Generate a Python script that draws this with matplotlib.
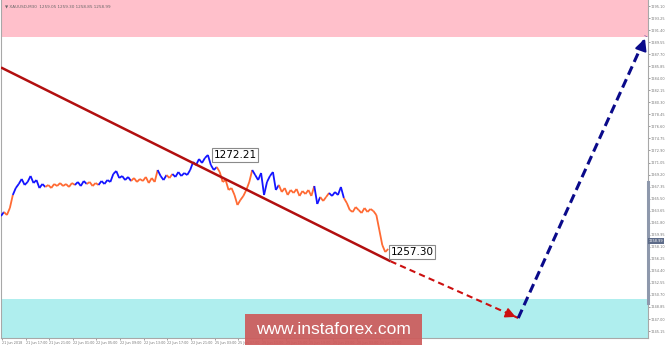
import matplotlib
matplotlib.use("Agg")
import matplotlib.pyplot as plt
from matplotlib.collections import LineCollection
from matplotlib.patches import Rectangle
import matplotlib.transforms as mtransforms

# ---------------- data ----------------
prices = [1262.83, 1263.45, 1262.98, 1264.06, 1266.06, 1267.13, 1267.75, 1268.52, 1267.60, 1268.06,
          1268.98, 1267.90, 1268.36, 1267.13, 1267.75, 1267.29, 1267.60, 1267.13, 1267.75, 1267.44,
          1267.90, 1267.44, 1267.75, 1267.29, 1267.90, 1267.60, 1268.06, 1267.44, 1268.21, 1267.75,
          1268.06, 1267.44, 1267.90, 1267.60, 1268.21, 1267.75, 1268.36, 1268.06, 1269.29, 1269.75,
          1268.67, 1268.98, 1268.36, 1268.83, 1268.21, 1268.67, 1268.06, 1268.52, 1268.21, 1268.83,
          1267.90, 1268.67, 1268.06, 1269.90, 1268.98, 1268.36, 1269.13, 1268.67, 1269.29, 1268.83,
          1269.59, 1268.98, 1269.44, 1269.13, 1269.90, 1271.13, 1270.67, 1271.59, 1270.98, 1271.75,
          1272.21, 1270.67, 1269.90, 1270.36, 1269.59, 1268.06, 1268.36, 1266.83, 1267.13, 1266.06,
          1264.52, 1265.29, 1265.91, 1266.83, 1268.06, 1269.90, 1269.13, 1268.36, 1269.44, 1266.06,
          1268.06, 1268.98, 1269.59, 1266.83, 1267.60, 1266.52, 1267.13, 1266.06, 1266.83, 1266.37,
          1266.98, 1265.91, 1266.67, 1266.21, 1266.83, 1265.91, 1267.44, 1264.68, 1265.75, 1265.14,
          1265.75, 1266.37, 1265.91, 1266.52, 1266.06, 1267.29, 1265.60, 1264.83, 1263.75, 1263.45,
          1264.21, 1263.75, 1263.29, 1264.06, 1263.45, 1263.91, 1263.60, 1262.98, 1260.68, 1258.37,
          1257.30, 1257.76]
# wave colour per bar: 1 = up-wave (blue), 0 = down-wave (orange)
waves = [1, 0, 0, 0, 1, 1, 1, 1, 1, 1,
         1, 1, 1, 1, 1, 0, 0, 0, 0, 0,
         0, 0, 0, 0, 0, 1, 1, 1, 1, 0,
         0, 0, 0, 1, 1, 1, 1, 1, 1, 1,
         1, 1, 1, 1, 0, 0, 0, 0, 0, 0,
         0, 0, 0, 1, 1, 1, 0, 0, 1, 1,
         1, 1, 1, 1, 1, 1, 1, 1, 1, 1,
         1, 1, 1, 0, 0, 0, 0, 0, 0, 0,
         0, 0, 0, 0, 0, 1, 1, 1, 1, 1,
         1, 1, 1, 1, 0, 0, 0, 0, 0, 0,
         0, 0, 0, 0, 0, 0, 1, 1, 0, 0,
         0, 1, 1, 1, 1, 1, 0, 0, 0, 0,
         0, 0, 0, 0, 0, 0, 0, 0, 0, 0,
         0, 0]

# trend line (time index, price): solid part then dashed forecast
trend_x = [0.0, 131.8]
trend_y = [1285.66, 1255.87]
down_fc_x = [131.8, 175.0]
down_fc_y = [1255.87, 1247.15]
up_fc_x = [175.0, 218.2]
up_fc_y = [1247.15, 1290.50]

# price zones
resist_zone = (1290.34, 1296.03)
support_zone = (1244.08, 1250.07)

# marked extremes
marks_x = [70, 130]
marks_y = [1272.21, 1257.30]
marks_txt = ["1272.21", "1257.30"]

current_price = 1258.99
scroll_range = (1249.46, 1268.06)

ytick_vals = [1295.10 - 1.85 * k for k in range(28)]
xtick_pos = [8 * k + 0.3 for k in range(17)]
xtick_lbl = ["21 Jun 2018", "21 Jun 17:00", "21 Jun 21:00", "22 Jun 01:00", "22 Jun 05:00",
             "22 Jun 09:00", "22 Jun 13:00", "22 Jun 17:00", "22 Jun 21:00", "25 Jun 03:00",
             "25 Jun 07:00", "25 Jun 11:00", "25 Jun 15:00", "25 Jun 19:00", "25 Jun 23:00",
             "26 Jun 03:00", "26 Jun 07:00"]
header = "▼ XAUUSD,M30  1259.05 1259.30 1258.85 1258.99"

# ---------------- figure ----------------
W, H = 665, 345
fig = plt.figure(figsize=(W / 100, H / 100), dpi=100)
fig.patch.set_facecolor("white")
ax = fig.add_axes([0.0015, 7 / H, 647 / W, 338 / H])
ax.set_xlim(0, 218.9)
ax.set_ylim(support_zone[0], resist_zone[1])

ax.axhspan(*resist_zone, color="#ffc0cb", lw=0, zorder=0)
ax.axhspan(*support_zone, color="#afeeee", lw=0, zorder=0)

# price line coloured by wave
segs, cols = [], []
for i in range(len(prices) - 1):
    segs.append([(i, prices[i]), (i + 1, prices[i + 1])])
    cols.append("#1414ff" if waves[i] == 1 else "#ff6a33")
ax.add_collection(LineCollection(segs, colors=cols, linewidths=1.3, zorder=3))

# trend line
ax.plot(trend_x, trend_y, color="#b20f0f", lw=1.8, zorder=4, solid_capstyle="butt")
ax.plot(down_fc_x[:2], down_fc_y[:2], color="#cc1010", lw=1.5, ls=(0, (3, 2)), zorder=4)
ax.annotate("", xy=(down_fc_x[1], down_fc_y[1]),
            xytext=(down_fc_x[1] - 4, down_fc_y[1] + 0.8),
            arrowprops=dict(arrowstyle="-|>,head_length=0.6,head_width=0.3",
                            color="#cc1010", lw=1.2), zorder=5)
ax.plot(up_fc_x, up_fc_y, color="#0a0a8a", lw=2.2, ls=(0, (3, 1.6)), zorder=4)
ax.annotate("", xy=(up_fc_x[1], up_fc_y[1]),
            xytext=(up_fc_x[1] - 1.6, up_fc_y[1] - 2.0),
            arrowprops=dict(arrowstyle="-|>,head_length=0.7,head_width=0.35",
                            color="#0a0a8a", lw=1.5), zorder=5)

# extreme labels
for mx, my, mt in zip(marks_x, marks_y, marks_txt):
    ax.annotate(mt, xy=(mx, my), xytext=(4, 0), textcoords="offset points",
                ha="left", va="center", fontsize=7.5, family="DejaVu Sans", color="black",
                bbox=dict(boxstyle="square,pad=0.15", fc="white", ec="#8a8a8a", lw=0.8),
                zorder=6)

# axes styling
ax.spines["top"].set_visible(False)
for s in ["left", "right", "bottom"]:
    ax.spines[s].set_color("#a8a8a8")
    ax.spines[s].set_linewidth(0.8)
ax.yaxis.tick_right()
ax.set_yticks(ytick_vals)
ax.set_yticklabels([f"{v:.2f}" for v in ytick_vals])
ax.tick_params(axis="y", labelsize=2.5, colors="#777777", length=1.2, width=0.5, pad=0.5)
ax.set_xticks(xtick_pos)
ax.set_xticklabels(xtick_lbl, ha="left")
ax.tick_params(axis="x", labelsize=2.4, colors="#777777", length=1.5, width=0.5, pad=0.8)

# scroll marker on the price axis
trans = mtransforms.blended_transform_factory(ax.transAxes, ax.transData)
ax.plot([1.0, 1.0], scroll_range, transform=trans, color="#8e98ac", lw=2.2,
        clip_on=False, zorder=6)
ax.annotate(f"{current_price:.2f}", xy=(1.0, current_price), xycoords=trans,
            xytext=(0.5, 0), textcoords="offset points", ha="left", va="center",
            fontsize=2.5, color="white",
            bbox=dict(boxstyle="square,pad=0.2", fc="#5d6b88", ec="none"),
            annotation_clip=False, zorder=7)

fig.text(5 / W, 1 - 6 / H, header, fontsize=3.0, color="#666666", ha="left", va="center")

# watermark
fig.patches.append(Rectangle((245 / W, 0), (422 - 245) / W, 31 / H, transform=fig.transFigure,
                             facecolor="#cd5c5c", alpha=0.93, edgecolor="none", zorder=10))
fig.text(333 / W, 15.5 / H, "www.instaforex.com", fontsize=12.5, family="Liberation Sans",
         color="white", ha="center", va="center", zorder=11)

fig.savefig("out.png", dpi=100)
